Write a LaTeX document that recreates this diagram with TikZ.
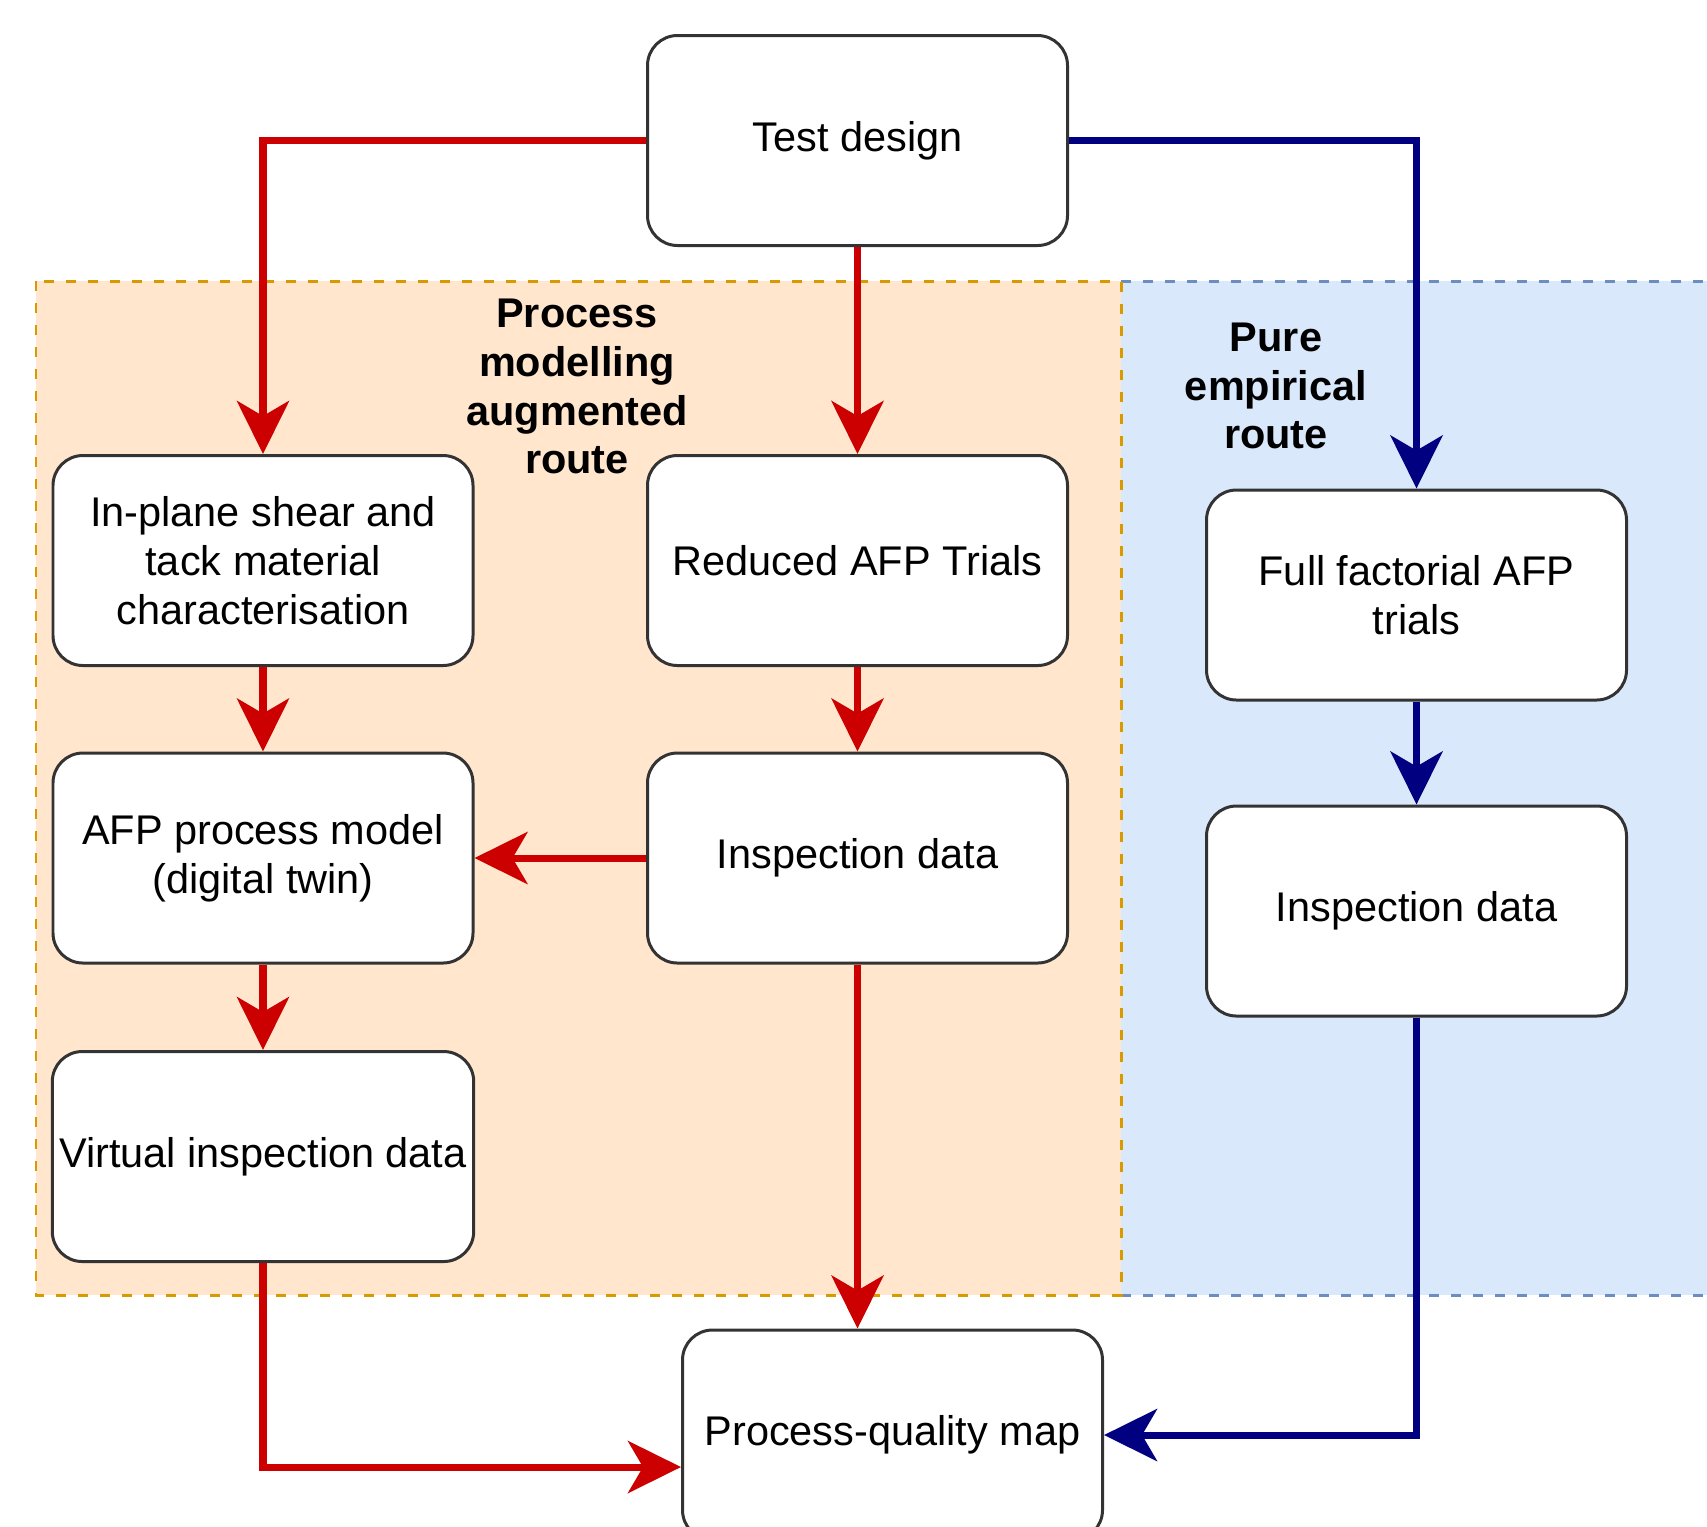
\documentclass[tikz,border=0pt]{standalone}
\usepackage{fontspec}
\setmainfont{Liberation Sans}
\usetikzlibrary{arrows.meta}

\definecolor{routered}{HTML}{CC0000}
\definecolor{routeblue}{HTML}{000080}
\definecolor{modelfill}{HTML}{FFE6CC}
\definecolor{modeledge}{HTML}{D79B00}
\definecolor{empfill}{HTML}{DAE8FC}
\definecolor{empedge}{HTML}{6C8EBF}

\tikzset{
  block/.style={
    rectangle,
    rounded corners=0.3cm,
    draw=black!80,
    fill=white,
    line width=0.85pt,
    minimum width=4.2cm,
    minimum height=2.1cm,
    inner sep=2pt,
    text centered,
    align=center
  },
  region/.style={
    line width=0.85pt,
    dash pattern=on 0.1cm off 0.12cm
  },
  routelabel/.style={
    font=\bfseries,
    inner sep=0pt,
    align=center
  },
  flow/.style={
    line width=2pt,
    -{Stealth[length=5.3mm, width=5.2mm, inset=1.5mm]}
  },
}

\begin{document}
\begin{tikzpicture}
  \fontsize{11.8}{13.9}\selectfont
  \useasboundingbox (0, 0) rectangle (17.07, -15.26);
  \clip (0, 0) rectangle (17.07, -15.26);
  % route areas
  \fill[empfill] (11.21, -2.81) rectangle (17.3, -12.95);
  \draw[region, draw=empedge] (11.21, -2.81) -- (17.3, -2.81);
  \draw[region, draw=empedge] (11.21, -12.95) -- (17.3, -12.95);
  \draw[region, draw=modeledge, fill=modelfill] (0.36, -2.81) rectangle (11.21, -12.95);
  \node[routelabel] (modellabel) at (5.77, -3.865) {Process\\modelling\\augmented\\route};
  \node[routelabel] (emplabel) at (12.76, -3.86) {Pure\\empirical\\route};
  % boxes
  \node[block, anchor=center] (test) at (8.575, -1.405) {Test design};
  \node[block, anchor=center] (shear) at (2.63, -5.605) {In-plane shear and\\tack material\\characterisation};
  \node[block, anchor=center] (reduced) at (8.575, -5.605) {Reduced AFP Trials};
  \node[block, anchor=center] (full) at (14.165, -5.95) {Full factorial AFP\\trials};
  \node[block, anchor=center] (model) at (2.63, -8.58) {AFP process model\\(digital twin)};
  \node[block, anchor=center] (insp) at (8.575, -8.58) {Inspection data};
  \node[block, anchor=center] (fullinsp) at (14.165, -9.11) {Inspection data};
  \node[block, anchor=center] (virtual) at (2.63, -11.565) {Virtual inspection data};
  \node[block, anchor=center] (map) at (8.925, -14.35) {Process-quality map};
  % arrows
  \draw[flow, routered] (test.west) -| (shear.north);
  \draw[flow, routered] (test) -- (reduced);
  \draw[flow, routeblue] (test.east) -| (full.north);
  \draw[flow, routered] (shear) -- (model);
  \draw[flow, routered] (reduced) -- (insp);
  \draw[flow, routeblue] (full) -- (fullinsp);
  \draw[flow, routered] (insp) -- (model);
  \draw[flow, routered] (model) -- (virtual);
  \draw[flow, routered] (insp.south) -- (insp.south |- map.north);
  \draw[flow, routered] (virtual.south) |- ([yshift=-3.2mm]map.west);
  \draw[flow, routeblue] (fullinsp.south) |- (map.east);
\end{tikzpicture}
\end{document}
